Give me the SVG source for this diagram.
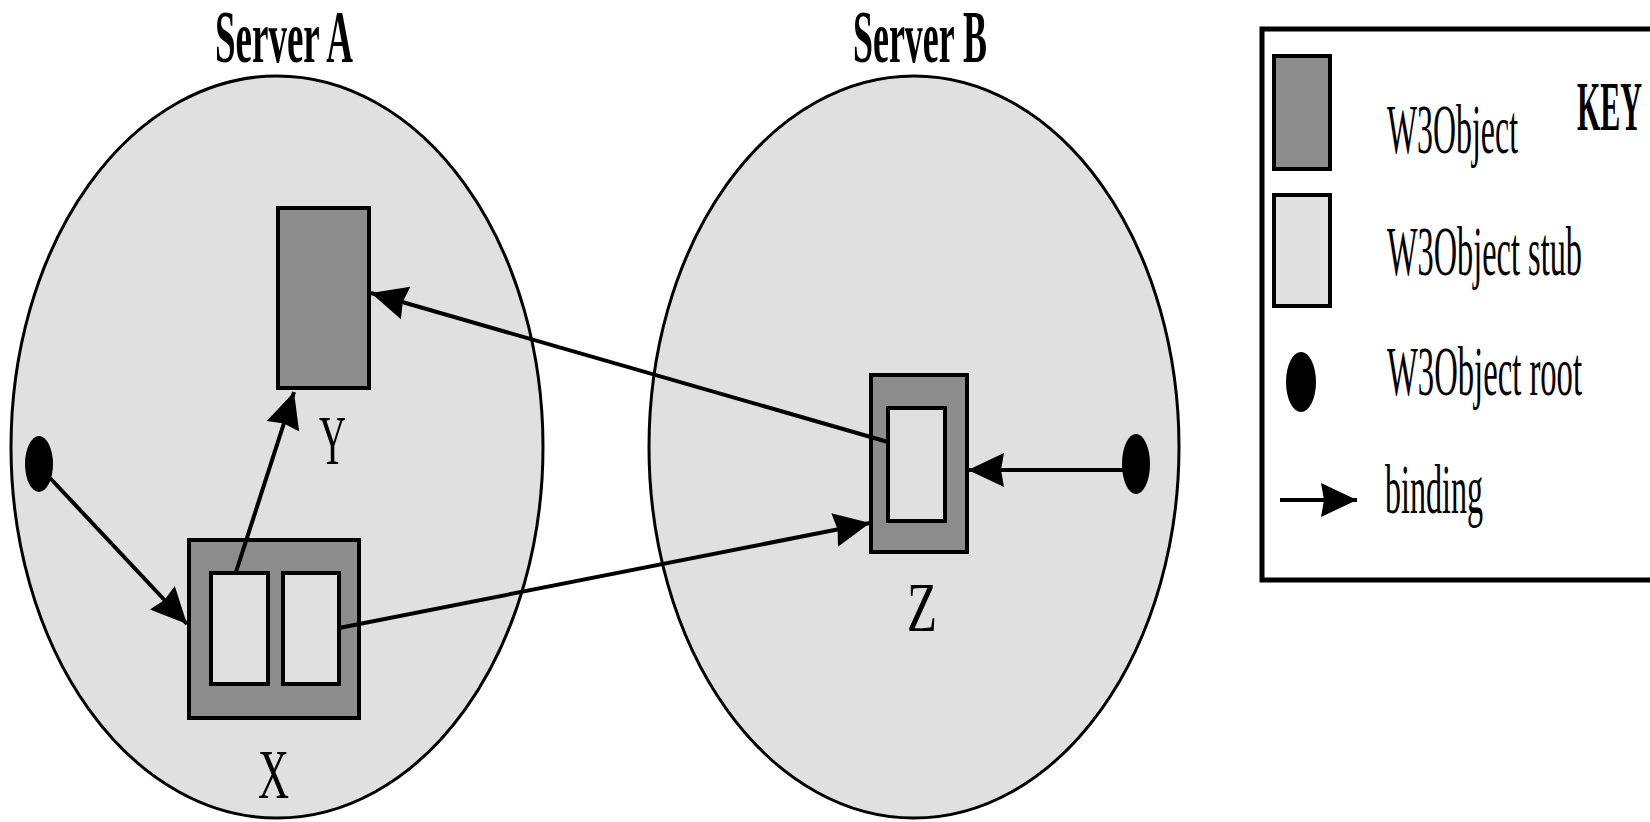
<svg xmlns="http://www.w3.org/2000/svg" width="1650" height="822" viewBox="0 0 1650 822">
<style>
.server{fill:#e0e0e0;stroke:#000;stroke-width:3}
.obj{fill:#8c8c8c;stroke:#000;stroke-width:4}
.stub{fill:#e0e0e0;stroke:#000;stroke-width:4}
.root{fill:#000}
.title{font-family:"Liberation Serif",serif;font-weight:bold;font-size:75px;fill:#000}
.lbl{font-family:"Liberation Serif",serif;font-size:70px;fill:#000}
.bind{fill:none;stroke:#000;stroke-width:4}
</style>
<defs>
<marker id="ah" markerUnits="userSpaceOnUse" viewBox="-38 -18 40 36" refX="0" refY="0" markerWidth="40" markerHeight="36" orient="auto">
<path d="M0,0 L-36,-17 L-33,0 L-36,17 Z" fill="#000"/>
</marker>
</defs>
<rect width="1650" height="822" fill="#fff"/>
<g id="serverA">
<ellipse class="server" cx="277" cy="447" rx="266" ry="371"/>
<text class="title" x="215" y="62" textLength="138" lengthAdjust="spacingAndGlyphs">Server A</text>
</g>
<g id="serverB">
<ellipse class="server" cx="914" cy="447" rx="265" ry="371"/>
<text class="title" x="853" y="62" textLength="134" lengthAdjust="spacingAndGlyphs">Server B</text>
</g>
<g id="nodeY">
<rect class="obj" x="278" y="208" width="91" height="180"/>
<text class="lbl" x="319" y="464" textLength="27" lengthAdjust="spacingAndGlyphs">Y</text>
</g>
<g id="nodeX">
<rect class="obj" x="189" y="540" width="170" height="178"/>
<rect class="stub" x="211" y="573" width="57" height="111"/>
<rect class="stub" x="283" y="573" width="56" height="111"/>
<text class="lbl" x="258" y="798" textLength="31" lengthAdjust="spacingAndGlyphs">X</text>
</g>
<g id="nodeZ">
<rect class="obj" x="871" y="375" width="96" height="177"/>
<rect class="stub" x="888" y="408" width="57" height="113"/>
<text class="lbl" x="907" y="631" textLength="30" lengthAdjust="spacingAndGlyphs">Z</text>
</g>
<g id="rootA"><ellipse class="root" cx="39" cy="464" rx="14" ry="28"/></g>
<g id="rootB"><ellipse class="root" cx="1136" cy="464" rx="14" ry="30"/></g>
<g id="connectors">
<line class="bind" x1="50" y1="478" x2="187" y2="624" marker-end="url(#ah)"/>
<line class="bind" x1="236" y1="572" x2="294" y2="392" stroke-width="3" marker-end="url(#ah)"/>
<line class="bind" x1="888" y1="442" x2="371" y2="293" marker-end="url(#ah)"/>
<line class="bind" x1="339" y1="628" x2="870" y2="523" marker-end="url(#ah)"/>
<line class="bind" x1="1124" y1="470" x2="968" y2="470" marker-end="url(#ah)"/>
</g>
<g id="key">
<rect x="1262" y="29" width="500" height="551" fill="#fff" stroke="#000" stroke-width="5"/>
<text class="lbl" x="1577" y="130" font-weight="bold" textLength="65" lengthAdjust="spacingAndGlyphs">KEY</text>
<rect class="obj" x="1274" y="56" width="56" height="113"/>
<text class="lbl" x="1387" y="153" textLength="131" lengthAdjust="spacingAndGlyphs">W3Object</text>
<rect class="stub" x="1274" y="195" width="56" height="111"/>
<text class="lbl" x="1387" y="275" textLength="195" lengthAdjust="spacingAndGlyphs">W3Object stub</text>
<ellipse class="root" cx="1301" cy="382" rx="15" ry="30"/>
<text class="lbl" x="1387" y="395" textLength="195" lengthAdjust="spacingAndGlyphs">W3Object root</text>
<line class="bind" x1="1280" y1="500" x2="1357" y2="500" marker-end="url(#ah)"/>
<text class="lbl" x="1385" y="513" textLength="98" lengthAdjust="spacingAndGlyphs">binding</text>
</g>
</svg>
